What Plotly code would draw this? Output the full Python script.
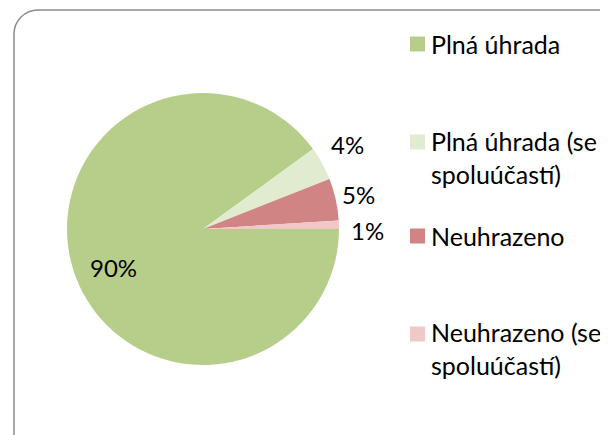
import math
import plotly.graph_objects as go

# Data
categories = ["Plná úhrada", "Plná úhrada (se spoluúčastí)", "Neuhrazeno", "Neuhrazeno (se spoluúčastí)"]
legend_labels = ["Plná úhrada", "Plná úhrada (se<br>spoluúčastí)", "Neuhrazeno", "Neuhrazeno (se<br>spoluúčastí)"]
values = [90, 4, 5, 1]
colors = ["#b7ce8b", "#e0ebd0", "#d08484", "#efc8c7"]

W, H = 608, 435
OFF = 8  # page body margin offset
FONT = "Lato"
FS_LEG = 25
FS_LBL = 24

def px(x):
    return (x - OFF) / W

def py(y):
    return 1 - (y - OFF) / H

# pie geometry (reference page pixels)
CX, CY, R = 203, 229, 136

fig = go.Figure()
fig.add_trace(go.Pie(
    labels=categories,
    values=values,
    sort=False,
    direction="clockwise",
    rotation=90,
    marker=dict(colors=colors, line=dict(width=0)),
    textinfo="none",
    showlegend=False,
    hoverinfo="label+percent",
    domain=dict(x=[px(CX - R), px(CX + R)], y=[py(CY + R), py(CY - R)]),
))

# percentage labels placed from slice mid-angles
label_r = [0.72, 1.23, 1.17, 1.21]
label_dang = [5.4, 1.5, 0, -2.3]
total = sum(values)
annotations = []
cum = 0
for v, rf, da in zip(values, label_r, label_dang):
    mid = (cum + v / 2) / total * 360
    cum += v
    ang = math.radians(-mid + da)
    lx = CX + rf * R * math.cos(ang)
    ly = CY - rf * R * math.sin(ang)
    annotations.append(dict(text=f"{round(v / total * 100)}%", xref="paper", yref="paper",
                            x=px(lx), y=py(ly), xanchor="center", yanchor="middle",
                            showarrow=False,
                            font=dict(family=FONT, size=FS_LBL, color="black")))

# rounded border (chart area frame)
r = 24
L, T = 14, 10
path = (f"M {px(L)},{py(H + 20)} L {px(L)},{py(T + r)} "
        f"C {px(L)},{py(T + r * 0.45)} {px(L + r * 0.45)},{py(T)} {px(L + r)},{py(T)} "
        f"L {px(W + 20)},{py(T)}")
shapes = [dict(type="path", path=path, xref="paper", yref="paper",
               line=dict(color="#8c8c8c", width=1.5))]

# custom legend
item_y = [44, 157, 236, 348]
square_y = [44, 142, 236, 334]
for lab, col, yc, sy in zip(legend_labels, colors, item_y, square_y):
    shapes.append(dict(type="rect", xref="paper", yref="paper",
                       x0=px(410), x1=px(425), y0=py(sy - 7.5), y1=py(sy + 7.5),
                       fillcolor=col, line=dict(width=0)))
    annotations.append(dict(text=lab, xref="paper", yref="paper",
                            x=px(429), y=py(yc), xanchor="left", yanchor="middle",
                            align="left", showarrow=False,
                            font=dict(family=FONT, size=FS_LEG, color="black")))

fig.update_layout(
    width=W, height=H,
    margin=dict(l=0, r=0, t=0, b=0),
    paper_bgcolor="white",
    plot_bgcolor="white",
    shapes=shapes,
    annotations=annotations,
    font=dict(family=FONT, size=FS_LEG, color="black"),
)

fig.write_html("out.html")
